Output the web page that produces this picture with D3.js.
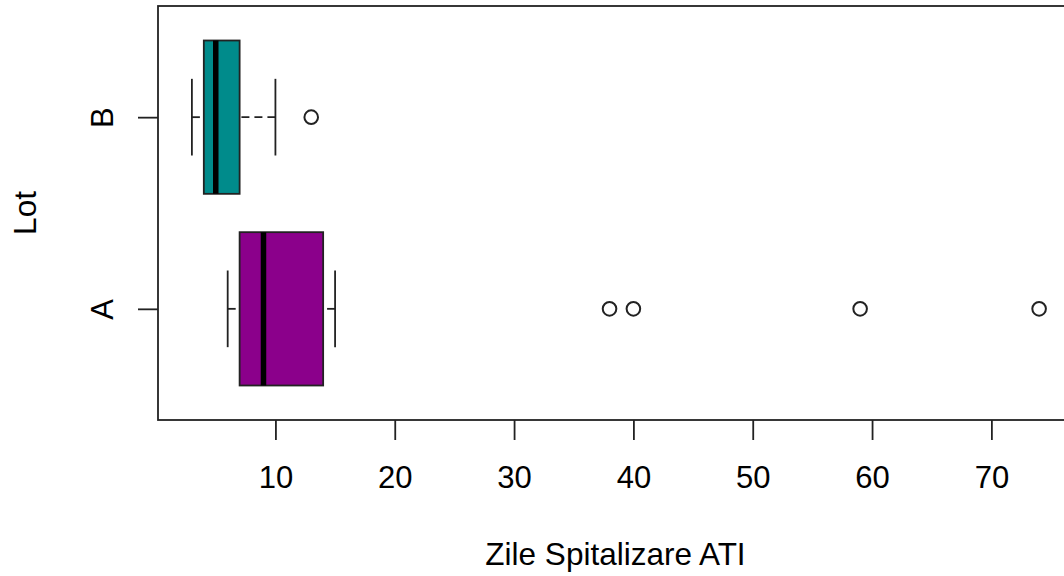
<!DOCTYPE html>
<meta charset="utf-8">
<style>
body { margin: 0; background: #fff; }
text { font-family: "Liberation Sans", Arial, sans-serif; fill: #000; }
</style>
<svg width="1064" height="576"></svg>
<script src="https://d3js.org/d3.v7.min.js"></script>
<script>

// values
var groups = ["A", "B"];
var lowWhisker = [6, 3];
var lowerQuartile = [7, 4];
var medians = [9, 5];
var upperQuartile = [14, 7];
var highWhisker = [15, 10];
var outliers = [[38, 40, 59, 74], [13]];
var fills = ["#8B008B", "#008B8B"];
var xTicks = [10, 20, 30, 40, 50, 60, 70];
var xLabel = "Zile Spitalizare ATI";
var yLabel = "Lot";

var svg = d3.select("svg"),
    margin = {top: 6, left: 158, bottom: 156},
    height = svg.attr("height") - margin.top - margin.bottom;

// R extends the data range by 4% on each side
var lo = d3.min(lowWhisker), hi = d3.max(outliers.flat());
var pad = (hi - lo) * 0.04;
var x = d3.scaleLinear().domain([lo - pad, hi + pad]).range([margin.left, margin.left + 915]);

var yPos = d3.scaleLinear().domain([0.42, 2.58]).range([margin.top + height, margin.top]);
var unit = yPos(1) - yPos(2);

var boxes = groups.map(function(g, i) {
  return {name: g, pos: yPos(i + 1), lw: lowWhisker[i], q1: lowerQuartile[i], med: medians[i],
          q3: upperQuartile[i], hw: highWhisker[i], out: outliers[i], fill: fills[i]};
});

// plot frame
svg.append("rect")
    .attr("x", x.range()[0])
    .attr("y", margin.top)
    .attr("width", x.range()[1] - x.range()[0])
    .attr("height", height)
    .attr("fill", "none")
    .attr("stroke", "#222")
    .attr("stroke-width", 1.8);

var b = svg.selectAll(".box")
    .data(boxes)
    .enter()
    .append("g")
      .attr("class", "box");

// whiskers, drawn from the end towards the box like R does
b.append("line")
    .attr("x1", function(d) { return x(d.lw); })
    .attr("x2", function(d) { return x(d.q1); })
    .attr("y1", function(d) { return d.pos; })
    .attr("y2", function(d) { return d.pos; })
    .attr("stroke", "#222").attr("stroke-width", 1.8).attr("stroke-dasharray", "8,5");
b.append("line")
    .attr("x1", function(d) { return x(d.hw); })
    .attr("x2", function(d) { return x(d.q3); })
    .attr("y1", function(d) { return d.pos; })
    .attr("y2", function(d) { return d.pos; })
    .attr("stroke", "#222").attr("stroke-width", 1.8).attr("stroke-dasharray", "8,5");

// staples
["lw", "hw"].forEach(function(k) {
  b.append("line")
      .attr("x1", function(d) { return x(d[k]); })
      .attr("x2", function(d) { return x(d[k]); })
      .attr("y1", function(d) { return d.pos - unit * 0.2; })
      .attr("y2", function(d) { return d.pos + unit * 0.2; })
      .attr("stroke", "#222").attr("stroke-width", 1.8);
});

b.append("rect")
    .attr("x", function(d) { return x(d.q1); })
    .attr("y", function(d) { return d.pos - unit * 0.4; })
    .attr("width", function(d) { return x(d.q3) - x(d.q1); })
    .attr("height", unit * 0.8)
    .attr("fill", function(d) { return d.fill; })
    .attr("stroke", "#222")
    .attr("stroke-width", 1.8);

b.append("line")
    .attr("x1", function(d) { return x(d.med); })
    .attr("x2", function(d) { return x(d.med); })
    .attr("y1", function(d) { return d.pos - unit * 0.4; })
    .attr("y2", function(d) { return d.pos + unit * 0.4; })
    .attr("stroke", "#000").attr("stroke-width", 5.5);

b.selectAll(".out")
    .data(function(d) { return d.out.map(function(v) { return {v: v, pos: d.pos}; }); })
    .enter()
    .append("circle")
      .attr("class", "out")
      .attr("cx", function(d) { return x(d.v); })
      .attr("cy", function(d) { return d.pos; })
      .attr("r", 6.8)
      .attr("fill", "none")
      .attr("stroke", "#222")
      .attr("stroke-width", 2);

// x axis
var gx = svg.append("g")
    .attr("transform", "translate(0," + (margin.top + height) + ")")
    .call(d3.axisBottom(x).tickValues(xTicks).tickSize(20).tickFormat(d3.format("d")));
gx.select(".domain").remove();
gx.selectAll(".tick line").attr("stroke", "#222").attr("stroke-width", 1.8);
gx.selectAll(".tick text")
    .attr("y", 68).attr("dy", 0)
    .attr("font-size", 31)
    .attr("font-family", "Liberation Sans, Arial, sans-serif");

// y axis
var gy = svg.append("g")
    .attr("transform", "translate(" + margin.left + ",0)")
    .call(d3.axisLeft(d3.scalePoint().domain(groups).range([yPos(1), yPos(2)])).tickSize(20));
gy.select(".domain").remove();
gy.selectAll(".tick line").attr("stroke", "#222").attr("stroke-width", 1.8);
gy.selectAll(".tick text")
    .attr("x", 0).attr("y", -45).attr("dy", 0)
    .attr("transform", "rotate(-90)")
    .attr("text-anchor", "middle")
    .attr("font-size", 31)
    .attr("font-family", "Liberation Sans, Arial, sans-serif");

svg.append("text")
    .attr("x", (x.range()[0] + x.range()[1]) / 2)
    .attr("y", 565)
    .attr("text-anchor", "middle")
    .attr("font-size", 31.5)
    .text(xLabel);

svg.append("text")
    .attr("transform", "translate(36," + (margin.top + height / 2) + ") rotate(-90)")
    .attr("text-anchor", "middle")
    .attr("font-size", 31.5)
    .text(yLabel);

</script>
